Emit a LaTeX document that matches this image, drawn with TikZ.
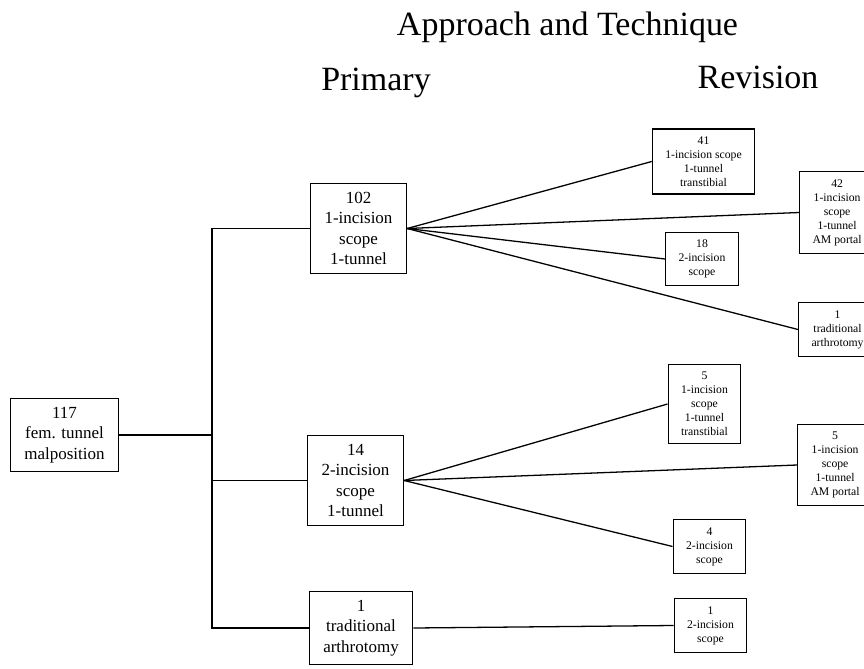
\documentclass[tikz,border=0pt]{standalone}
\usepackage{fontspec}
\setmainfont{Liberation Serif}
\usepackage{tikz}
\tikzset{
    % box of the start and of the primary column
    bigbox/.style={
        draw, line width=1.1pt, align=center,
        font=\fontsize{14.5}{17.6}\selectfont,
        inner xsep=12pt, inner ysep=7pt
    },
    % smaller box of the revision column
    smallbox/.style={
        draw, line width=1.1pt, align=center,
        font=\fontsize{10}{12}\selectfont,
        inner xsep=11pt, inner ysep=6.5pt
    },
    heading/.style={anchor=base, font=\fontsize{29}{34}\selectfont}
}

\begin{document}
\begin{tikzpicture}[x=0.03cm, y=-0.03cm]
            \useasboundingbox (0,0) rectangle (864,668);
            \node[heading] (title) at (567.5,35) {Approach and Technique};
            \node[heading] (hprim) at (376,90) {Primary};
            \node[heading] (hrev) at (758,88) {Revision};
            % start and primary column
            \node[bigbox] (root) at (64.5,435) {117\\fem. tunnel\\malposition};
            \node[bigbox] (p1) at (358.5,228.5) {102\\1-incision\\scope\\1-tunnel};
            \node[bigbox] (p2) at (355.5,480.5) {14\\2-incision\\scope\\1-tunnel};
            \node[bigbox] (p3) at (361,628) {1\\traditional\\arthrotomy};
            % revision column
            \node[smallbox] (r1) at (703.5,161.5) {41\\1-incision scope\\1-tunnel\\transtibial};
            \node[smallbox, anchor=west] (r2) at (799,212.5) {42\\1-incision\\scope\\1-tunnel\\AM portal};
            \node[smallbox] (r3) at (702,259) {18\\2-incision\\scope};
            \node[smallbox, anchor=west] (r4) at (798,329.5) {1\\traditional\\arthrotomy};
            \node[smallbox] (r5) at (704.5,404) {5\\1-incision\\scope\\1-tunnel\\transtibial};
            \node[smallbox, anchor=west] (r6) at (797,465) {5\\1-incision\\scope\\1-tunnel\\AM portal};
            \node[smallbox] (r7) at (709.5,546.5) {4\\2-incision\\scope};
            \node[smallbox] (r8) at (710.5,625.5) {1\\2-incision\\scope};
            \coordinate (split) at (212,435);
            \begin{scope}[line width=1.1pt]
                \draw (root.east) -- (split);
                \draw (p1.west) -| (split) |- (p3.west);
                \draw (split |- p2.west) -- (p2.west);
                \foreach \r in {r1, r2, r3, r4} {
                    \draw (p1.east) -- (\r.west);
                }
                \foreach \r in {r5, r6, r7} {
                    \draw (p2.east) -- (\r.west);
                }
                \draw (p3.east) -- (r8.west);
            \end{scope}
        \end{tikzpicture}
\end{document}
